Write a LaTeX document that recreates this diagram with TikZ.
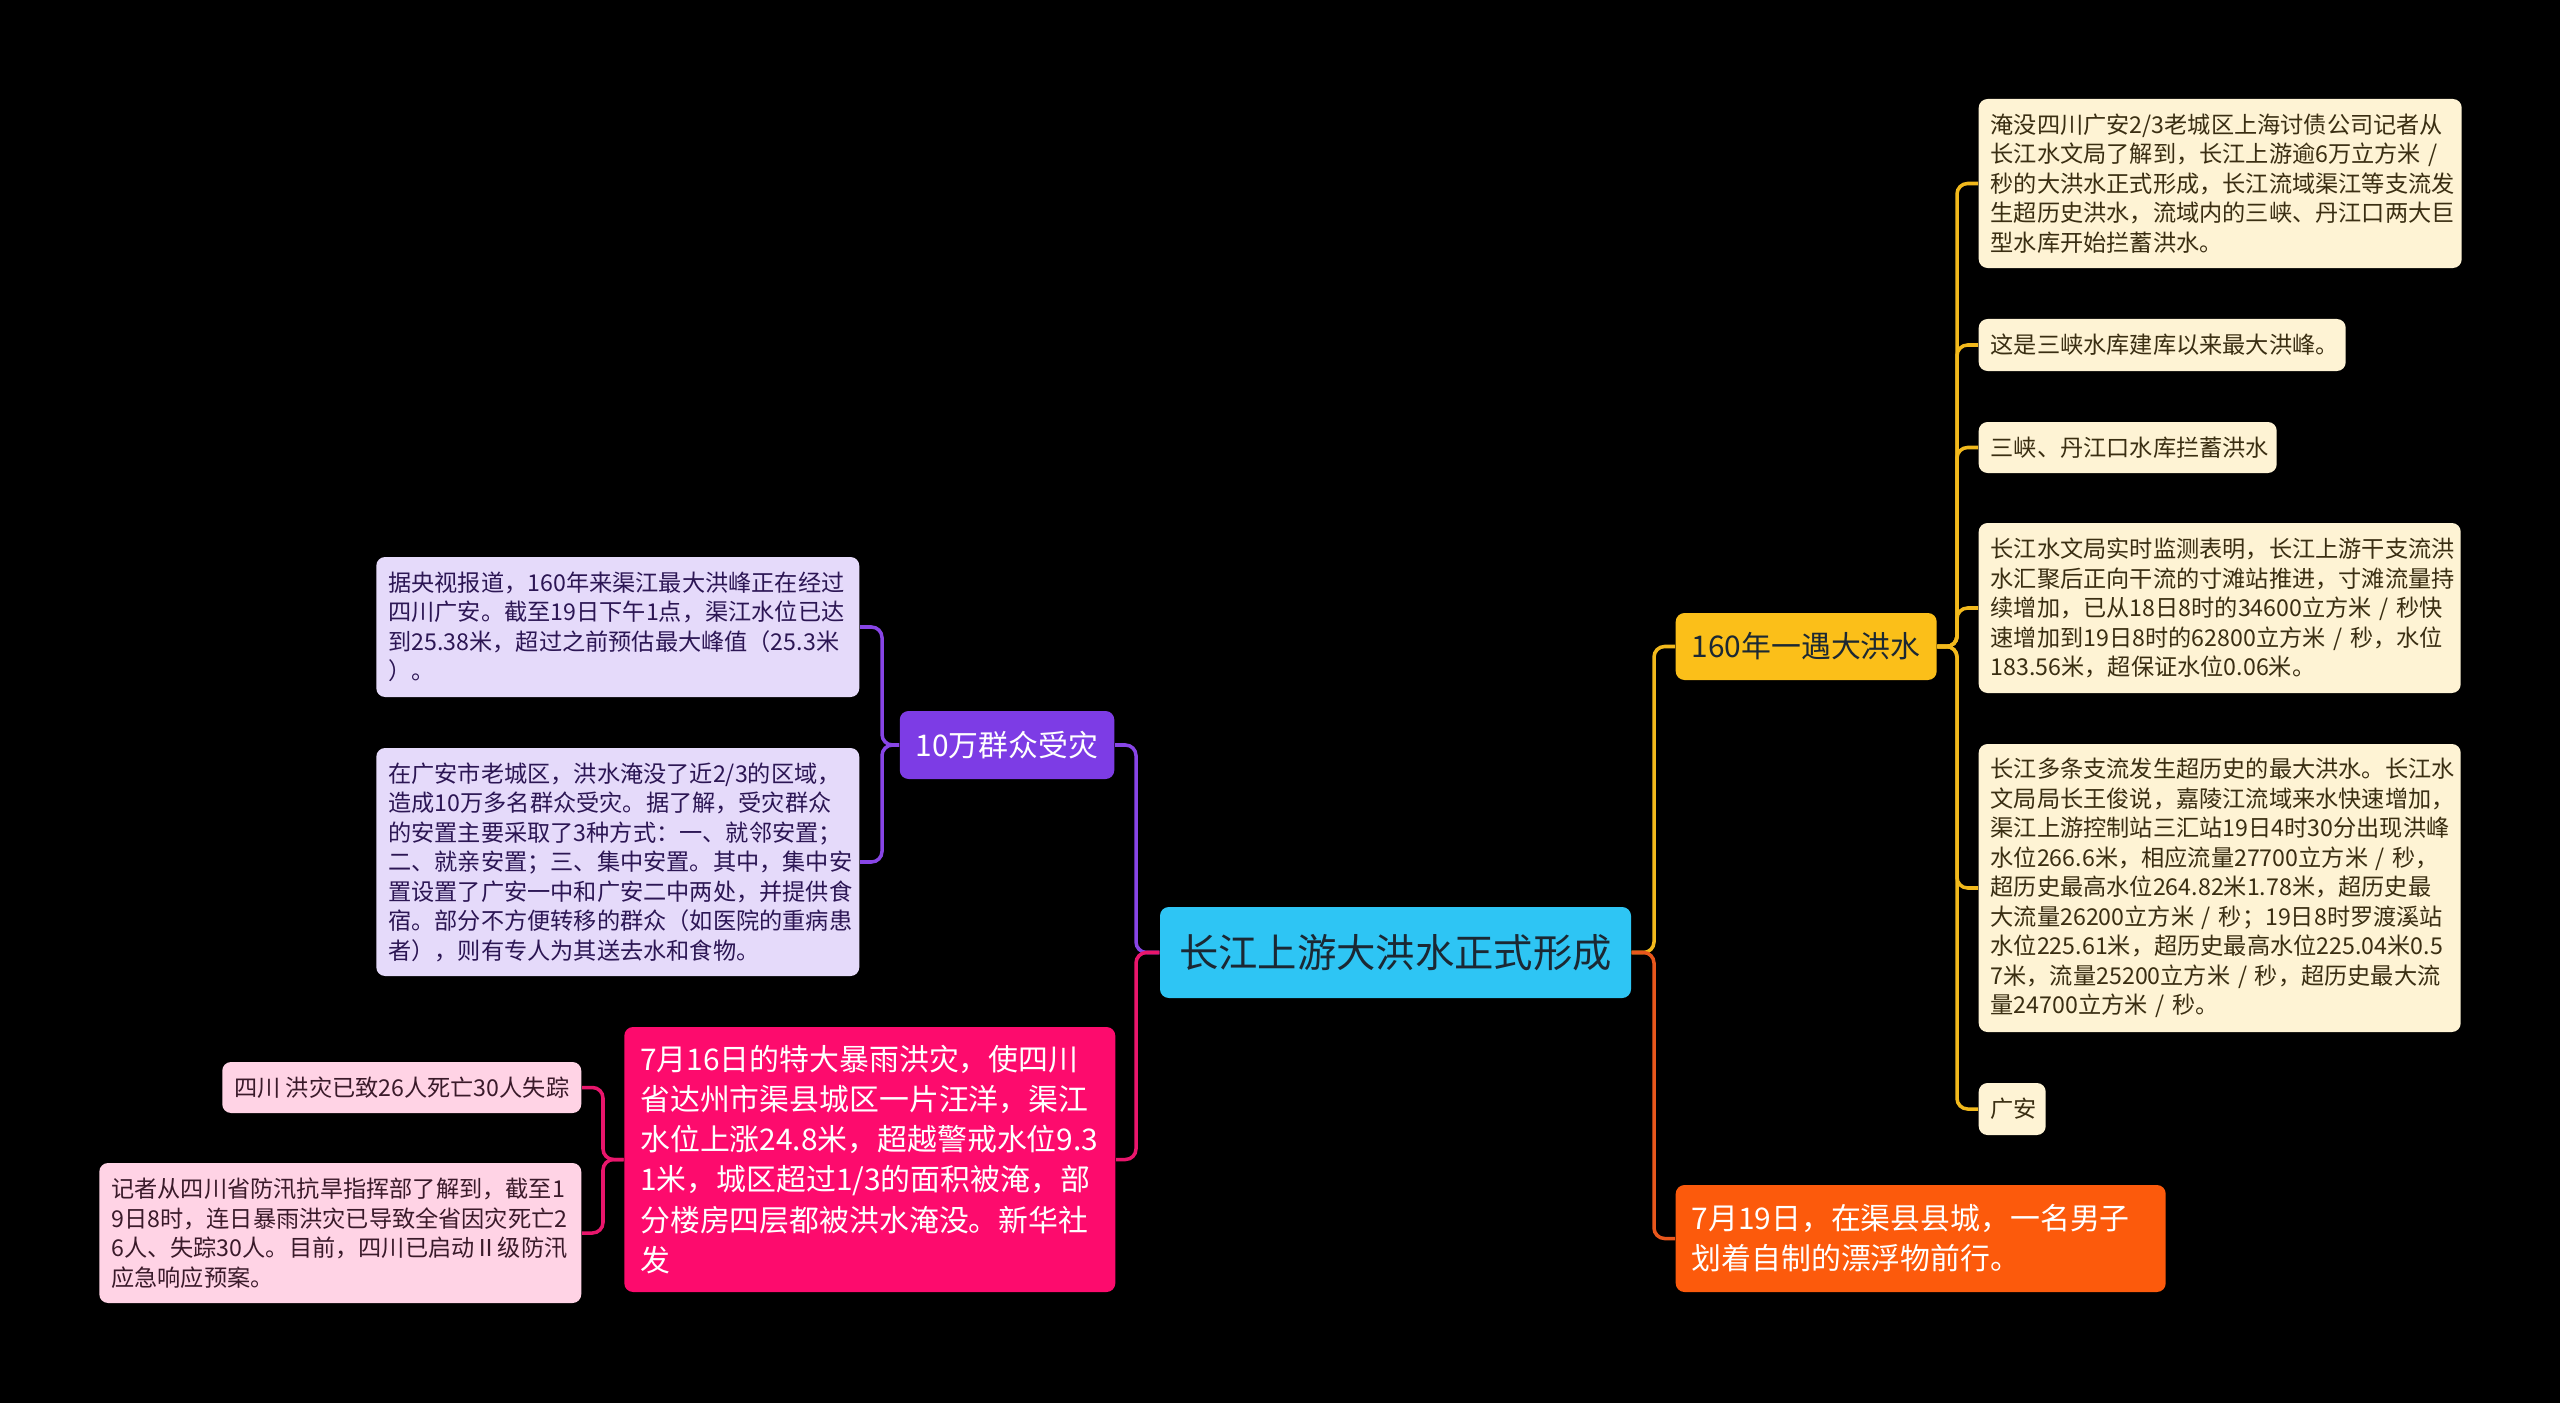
\documentclass[tikz,border=0pt]{standalone}
\usepackage{fontspec}
\setmainfont{Noto Sans CJK SC}
\definecolor{cyanbox}{HTML}{2EC5F4}
\definecolor{topictext}{HTML}{1B2833}
\definecolor{goldbox}{HTML}{FBBF19}
\definecolor{orangebox}{HTML}{FC5A0C}
\definecolor{purplebox}{HTML}{7D3CE5}
\definecolor{pinkbox}{HTML}{FD0B6D}
\definecolor{creamnote}{HTML}{FEF3D4}
\definecolor{lilacnote}{HTML}{E5DAFA}
\definecolor{rosenote}{HTML}{FFD3E5}
\definecolor{creamtext}{HTML}{3A2E12}
\definecolor{lilactext}{HTML}{2C1654}
\definecolor{rosetext}{HTML}{3A1A2A}
\definecolor{goldline}{HTML}{F2B91C}
\definecolor{orangeline}{HTML}{E8571C}
\definecolor{purpleline}{HTML}{8845E6}
\definecolor{pinkline}{HTML}{E9166C}
\begin{document}
\begin{tikzpicture}[
  box/.style={rounded corners=2.5pt, inner ysep=0pt},
  topic/.style={box, fill=cyanbox, text=topictext, font=\fontsize{11.2}{14}\selectfont, minimum width=4.71cm, minimum height=0.91cm},
  branch/.style={box, inner xsep=0.16cm, font=\fontsize{8.5}{11.4}\selectfont, align=left},
  note/.style={box, inner xsep=0.12cm, font=\fontsize{6.6}{8.4}\selectfont, align=left},
  link/.style={line width=1pt, rounded corners=3pt},
]
  \fill[black] (0,0) rectangle (25.6,-14.03);
  % centre
  \node[topic] (flood) at (13.955,-9.525) {长江上游大洪水正式形成};
  \coordinate (tr) at (16.54,-9.525);
  \coordinate (tl) at (11.36,-9.525);
  % right: 160年一遇大洪水
  \node[branch, fill=goldbox, text=topictext, align=center, minimum width=2.6cm, minimum height=0.67cm, anchor=west] (peak) at (16.75,-6.465) {160年一遇大洪水};
  \coordinate (ty) at (19.57,-6.465);
  \node[note, fill=creamnote, text=creamtext, text width=4.59cm, minimum height=1.69cm, anchor=west] (dam) at (19.78,-1.835)
    {淹没四川广安2/3老城区上海讨债公司记者从\\长江水文局了解到，长江上游逾6万立方米 /\\秒的大洪水正式形成，长江流域渠江等支流发\\生超历史洪水，流域内的三峡、丹江口两大巨\\型水库开始拦蓄洪水。};
  \node[note, fill=creamnote, text=creamtext, text width=3.43cm, minimum height=0.52cm, anchor=west] (record) at (19.78,-3.45) {这是三峡水库建库以来最大洪峰。};
  \node[note, fill=creamnote, text=creamtext, text width=2.74cm, minimum height=0.51cm, anchor=west] (store) at (19.78,-4.475) {三峡、丹江口水库拦蓄洪水};
  \node[note, fill=creamnote, text=creamtext, text width=4.58cm, minimum height=1.70cm, anchor=west] (cuntan) at (19.78,-6.08)
    {长江水文局实时监测表明，长江上游干支流洪\\水汇聚后正向干流的寸滩站推进，寸滩流量持\\续增加，已从18日8时的34600立方米 / 秒快\\速增加到19日8时的62800立方米 / 秒，水位\\183.56米，超保证水位0.06米。};
  \node[note, fill=creamnote, text=creamtext, text width=4.58cm, minimum height=2.88cm, anchor=west] (branches) at (19.78,-8.88)
    {长江多条支流发生超历史的最大洪水。长江水\\文局局长王俊说，嘉陵江流域来水快速增加，\\渠江上游控制站三汇站19日4时30分出现洪峰\\水位266.6米，相应流量27700立方米 / 秒，\\超历史最高水位264.82米1.78米，超历史最\\大流量26200立方米 / 秒；19日8时罗渡溪站\\水位225.61米，超历史最高水位225.04米0.5\\7米，流量25200立方米 / 秒，超历史最大流\\量24700立方米 / 秒。};
  \node[note, fill=creamnote, text=creamtext, text width=0.43cm, minimum height=0.52cm, anchor=west] (guangan) at (19.78,-11.09) {广安};
  \draw[link, goldline] (flood.east) -- (tr) |- (peak.west);
  \foreach \n in {dam,record,store,cuntan,branches,guangan}
    \draw[link, goldline] (peak.east) -- (ty) |- (\n.west);
  % right: 7月19日
  \node[branch, fill=orangebox, text=white, text width=4.58cm, minimum height=1.07cm, anchor=west] (rower) at (16.75,-12.385)
    {7月19日，在渠县县城，一名男子\\划着自制的漂浮物前行。};
  \draw[link, orangeline] (flood.east) -- (tr) |- (rower.west);
  % left: 10万群众受灾
  \node[branch, fill=purplebox, text=white, align=center, minimum width=2.11cm, minimum height=0.68cm, anchor=east] (victims) at (11.15,-7.45) {10万群众受灾};
  \coordinate (tp) at (8.82,-7.45);
  \node[note, fill=lilacnote, text=lilactext, text width=4.59cm, minimum height=1.40cm, anchor=east] (cctv) at (8.60,-6.27)
    {据央视报道，160年来渠江最大洪峰正在经过\\四川广安。截至19日下午1点，渠江水位已达\\到25.38米，超过之前预估最大峰值（25.3米\\）。};
  \node[note, fill=lilacnote, text=lilactext, text width=4.59cm, minimum height=2.28cm, anchor=east] (shelter) at (8.60,-8.62)
    {在广安市老城区，洪水淹没了近2/3的区域，\\造成10万多名群众受灾。据了解，受灾群众\\的安置主要采取了3种方式：一、就邻安置；\\二、就亲安置；三、集中安置。其中，集中安\\置设置了广安一中和广安二中两处，并提供食\\宿。部分不方便转移的群众（如医院的重病患\\者），则有专人为其送去水和食物。};
  \draw[link, purpleline] (flood.west) -- (tl) |- (victims.east);
  \foreach \n in {cctv,shelter}
    \draw[link, purpleline] (victims.west) -- (tp) |- (\n.east);
  % left: 7月16日
  \node[branch, fill=pinkbox, text=white, text width=4.59cm, minimum height=2.65cm, anchor=east] (storm) at (11.16,-11.595)
    {7月16日的特大暴雨洪灾，使四川\\省达州市渠县城区一片汪洋，渠江\\水位上涨24.8米，超越警戒水位9.3\\1米，城区超过1/3的面积被淹，部\\分楼房四层都被洪水淹没。新华社\\发};
  \coordinate (tk) at (6.03,-11.595);
  \node[note, fill=rosenote, text=rosetext, minimum width=3.59cm, minimum height=0.51cm, anchor=east] (toll) at (5.82,-10.875) {四川 洪灾已致26人死亡30人失踪};
  \node[note, fill=rosenote, text=rosetext, text width=4.58cm, minimum height=1.40cm, anchor=east] (hq) at (5.82,-12.33)
    {记者从四川省防汛抗旱指挥部了解到，截至1\\9日8时，连日暴雨洪灾已导致全省因灾死亡2\\6人、失踪30人。目前，四川已启动Ⅱ级防汛\\应急响应预案。};
  \draw[link, pinkline] (flood.west) -- (tl) |- (storm.east);
  \foreach \n in {toll,hq}
    \draw[link, pinkline] (storm.west) -- (tk) |- (\n.east);
\end{tikzpicture}
\end{document}
